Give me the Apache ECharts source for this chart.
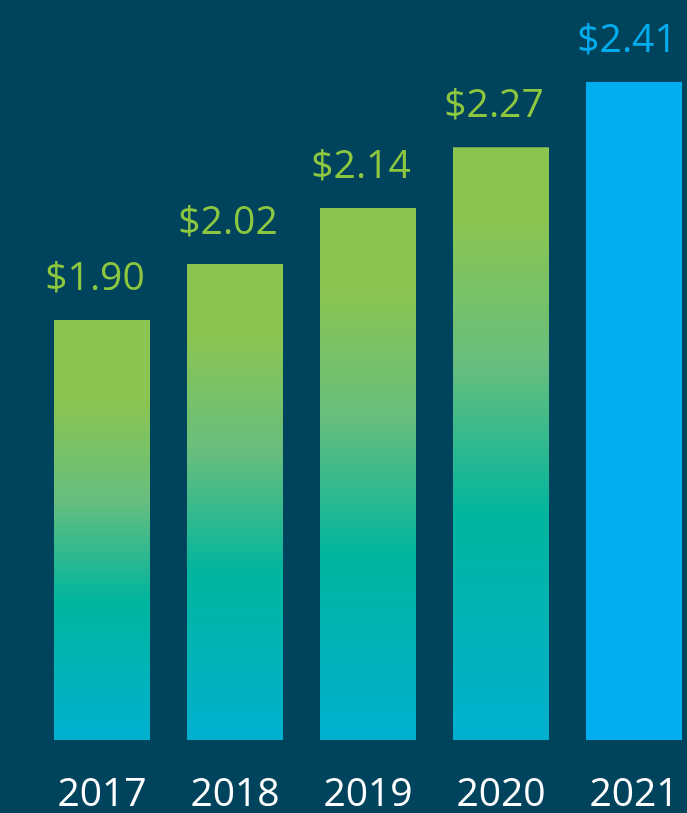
<!DOCTYPE html>
<html>
<head>
<meta charset="utf-8">
<script src="https://cdn.jsdelivr.net/npm/echarts@6/dist/echarts.min.js"></script>
<style>
  html, body { margin: 0; padding: 0; background: #00435D; }
  #chart { width: 687px; height: 813px; }
</style>
</head>
<body>
<div id="chart"></div>
<script>
var years = ['2017', '2018', '2019', '2020', '2021'];
var values = [1.90, 2.02, 2.14, 2.27, 2.41];

// where the green ends and the teal band sits, per bar (fraction of bar height)
var greenEnd = [0.19, 0.15, 0.15, 0.12];
var tealAt = [0.67, 0.65, 0.65, 0.62];

function makeGradient(g, t) {
    return new echarts.graphic.LinearGradient(0, 0, 0, 1, [
        {offset: 0, color: '#8BC550'},
        {offset: g, color: '#8BC550'},
        {offset: (g + t) / 2, color: '#66BE7E'},
        {offset: t, color: '#00B59E'},
        {offset: 1, color: '#00B1D0'}
    ]);
}

var chart = echarts.init(document.getElementById('chart'));
var option = {
    backgroundColor: '#00435D',
    animation: false,
    grid: {left: 35.5, width: 665, top: 40, bottom: 73, outerBoundsMode: 'none', containLabel: false},
    xAxis: {
        type: 'category',
        data: years,
        axisLine: {show: false},
        axisTick: {show: false},
        axisLabel: {
            color: '#ffffff',
            fontSize: 39,
            fontFamily: 'Open Sans',
            margin: 35,
            hideOverlap: false
        }
    },
    yAxis: {
        type: 'value',
        min: 1,
        max: 2.5,
        show: false,
        splitLine: {show: false}
    },
    series: [{
        type: 'bar',
        barWidth: 96,
        data: values.map(function (v, i) {
            var last = i === values.length - 1;
            return {
                value: v,
                itemStyle: {color: last ? '#00AEEF' : makeGradient(greenEnd[i], tealAt[i])},
                label: {color: last ? '#00AEEF' : '#8DC63F'}
            };
        }),
        label: {
            show: true,
            position: 'top',
            distance: 22,
            offset: [-7, 0],
            fontSize: 39,
            fontFamily: 'Open Sans',
            formatter: function (p) { return '$' + p.value.toFixed(2); }
        }
    }]
};
chart.setOption(option);
</script>
</body>
</html>
